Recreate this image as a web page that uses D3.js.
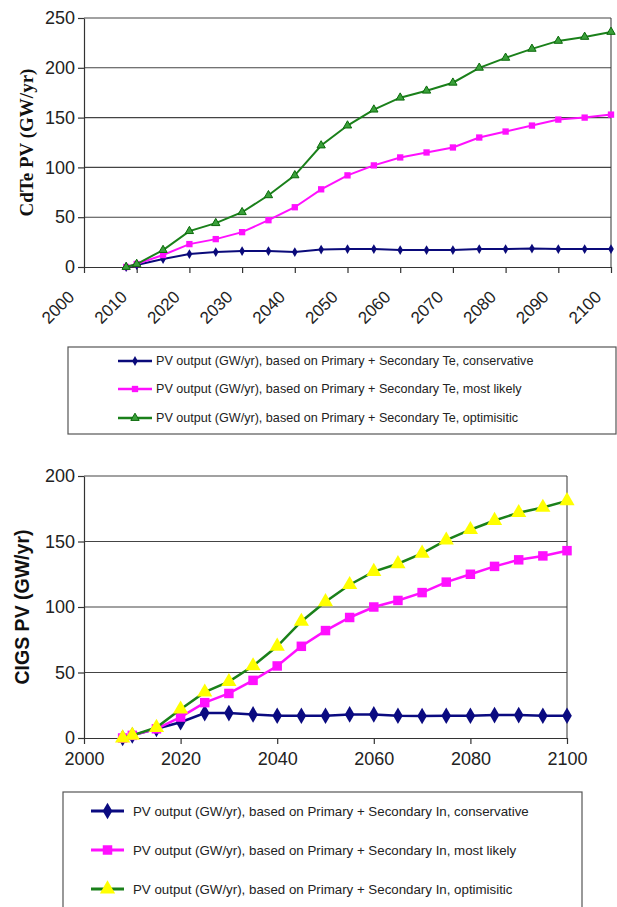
<!DOCTYPE html>
<html>
<head>
<meta charset="utf-8">
<script src="https://cdn.jsdelivr.net/npm/d3@7/dist/d3.min.js"></script>
<style>
body{margin:0;background:#fff;}
svg{display:block;}
.axis path,.axis line{stroke:#333;stroke-width:1.2;}
.axis text{font-family:"Liberation Sans",Arial,sans-serif;fill:#222;}
.grid line{stroke:#444;stroke-width:1.1;}
.legend text{font-family:"Liberation Sans",Arial,sans-serif;fill:#222;}
</style>
</head>
<body>
<div id="chart"></div>
<script>
// years with data points
var years=[2008,2010,2015,2020,2025,2030,2035,2040,2045,2050,2055,2060,2065,2070,2075,2080,2085,2090,2095,2100];

// CdTe (top panel)
var cdteConservative=[0,2,8,13,15,16,16,15,17.5,18,18,17,17,17,18,18,18.5,18,18,18];
var cdteLikely=[0,3,12,23,28,35,47,60,78,92,102,110,115,120,130,136,142,148,150,153];
var cdteOptimistic=[0,3,17,36,44,55,72,92,122,142,158,170,177,185,200,210,219,227,231,236];
var cdteXTicks=[2000,2010,2020,2030,2040,2050,2060,2070,2080,2090,2100];
var cdteYTicks=[0,50,100,150,200,250];
var cdteLegend=['PV output (GW/yr), based on Primary + Secondary Te, conservative',
    'PV output (GW/yr), based on Primary + Secondary Te, most likely',
    'PV output (GW/yr), based on Primary + Secondary Te, optimisitic'];

// CIGS (bottom panel)
var cigsConservative=[0,2,7,12,19,19,18,17,17,17,18,18,17,16.8,17,17,17.5,17.5,17,17];
var cigsLikely=[0,2,7,16,27,34,44,55,70,82,92,100,105,111,119,125,131,136,139,143];
var cigsOptimistic=[0,2,8,22,35,43,55,70,89,104,117,127,133,141,151,159,166,172,176,181];
var cigsXTicks=[2000,2020,2040,2060,2080,2100];
var cigsYTicks=[0,50,100,150,200];
var cigsLegend=['PV output (GW/yr), based on Primary + Secondary In, conservative',
    'PV output (GW/yr), based on Primary + Secondary In, most likely',
    'PV output (GW/yr), based on Primary + Secondary In, optimisitic'];

var svg=d3.select('#chart').append('svg')
    .attr('width',617)
    .attr('height',907);

function toPoints(vals){
    return vals.map(function(v,i){return {year:years[i],value:v};});
}

function drawPanel(cfg){
    var g=svg.append('g');
    var x=d3.scaleLinear().domain([2000,2100]).range([cfg.left,cfg.right]);
    var y=d3.scaleLinear().domain([0,cfg.yMax]).range([cfg.bottom,cfg.top]);

    // horizontal grid
    g.append('g').attr('class','grid')
        .selectAll('line')
        .data(cfg.yTicks.filter(function(d){return d>0;}))
        .enter().append('line')
        .attr('x1',cfg.left).attr('x2',cfg.right)
        .attr('y1',function(d){return y(d);})
        .attr('y2',function(d){return y(d);});
    // right border
    g.append('line')
        .attr('x1',cfg.right).attr('x2',cfg.right)
        .attr('y1',cfg.top).attr('y2',cfg.bottom)
        .attr('stroke','#444').attr('stroke-width',1.1);

    var yAxis=g.append('g').attr('class','axis')
        .attr('transform','translate('+cfg.left+',0)')
        .call(d3.axisLeft(y).tickValues(cfg.yTicks).tickSize(6).tickSizeOuter(0).tickPadding(3));
    yAxis.selectAll('text').style('font-size',cfg.yTickFont+'px');

    var xAxis=g.append('g').attr('class','axis')
        .attr('transform','translate(0,'+cfg.bottom+')')
        .call(d3.axisBottom(x).tickValues(cfg.xTicks).tickFormat(d3.format('d')).tickSize(6).tickSizeOuter(0));
    xAxis.selectAll('text').style('font-size',cfg.xTickFont+'px');
    if(cfg.rotate){
        xAxis.selectAll('text')
            .attr('y',0).attr('dy',0).attr('x',0)
            .attr('text-anchor','end')
            .attr('transform','translate(-9,31) rotate(-45)');
    }else{
        xAxis.selectAll('text').attr('y',14);
    }

    // y title
    g.append('text')
        .attr('transform','translate('+cfg.titleX+','+((cfg.top+cfg.bottom)/2)+') rotate(-90)')
        .attr('text-anchor','middle')
        .attr('dy','0.35em')
        .style('font-family',cfg.titleFont)
        .style('font-weight','bold')
        .style('font-size',cfg.titleSize+'px')
        .style('fill','#111')
        .text(cfg.title);

    var line=d3.line()
        .x(function(d){return x(d.year);})
        .y(function(d){return y(d.value);});

    cfg.series.forEach(function(s){
        var pts=toPoints(s.values);
        g.append('path')
            .datum(pts)
            .attr('fill','none')
            .attr('stroke',s.color)
            .attr('stroke-width',cfg.lineWidth)
            .attr('d',line);
        g.selectAll(null)
            .data(pts)
            .enter().append('path')
            .attr('transform',function(d){return 'translate('+x(d.year)+','+y(d.value)+')';})
            .attr('d',d3.symbol().type(s.symbol).size(s.size))
            .attr('fill',s.fill)
            .attr('stroke',s.stroke||'none')
            .attr('stroke-width',1);
    });

    // legend
    var lg=svg.append('g').attr('class','legend');
    lg.append('rect')
        .attr('x',cfg.legend.x).attr('y',cfg.legend.y)
        .attr('width',cfg.legend.w).attr('height',cfg.legend.h)
        .attr('fill','#fff').attr('stroke','#555').attr('stroke-width',1.2);
    cfg.series.forEach(function(s,i){
        var ly=cfg.legend.rowY[i];
        lg.append('line')
            .attr('x1',cfg.legend.lineX1).attr('x2',cfg.legend.lineX2)
            .attr('y1',ly).attr('y2',ly)
            .attr('stroke',s.color).attr('stroke-width',cfg.lineWidth+0.5);
        lg.append('path')
            .attr('transform','translate('+((cfg.legend.lineX1+cfg.legend.lineX2)/2)+','+ly+')')
            .attr('d',d3.symbol().type(s.symbol).size(s.size))
            .attr('fill',s.fill)
            .attr('stroke',s.stroke||'none');
        lg.append('text')
            .attr('x',cfg.legend.textX).attr('y',ly)
            .attr('dy','0.35em')
            .style('font-size',cfg.legend.font+'px')
            .text(cfg.legendLabels[i]);
    });
}

drawPanel({
    left:84,right:611,top:18,bottom:267,yMax:250,
    xTicks:cdteXTicks,yTicks:cdteYTicks,
    xTickFont:17,yTickFont:18,rotate:true,
    title:'CdTe PV (GW/yr)',titleX:26,titleSize:19,
    titleFont:'"Liberation Serif","Times New Roman",serif',
    lineWidth:2,
    series:[
        {values:cdteConservative,color:'#0a0a7a',fill:'#0a0a7a',symbol:d3.symbolDiamond,size:28},
        {values:cdteLikely,color:'#ff10ff',fill:'#ff10ff',symbol:d3.symbolSquare,size:40},
        {values:cdteOptimistic,color:'#1a801a',fill:'#3aa03a',stroke:'#0a6a0a',symbol:d3.symbolTriangle,size:30}
    ],
    legendLabels:cdteLegend,
    legend:{x:68,y:347,w:548,h:87,rowY:[361,389,418],lineX1:118,lineX2:152,textX:156,font:12.6}
});

drawPanel({
    left:84,right:567,top:476,bottom:738,yMax:200,
    xTicks:cigsXTicks,yTicks:cigsYTicks,
    xTickFont:18,yTickFont:18,rotate:false,
    title:'CIGS PV (GW/yr)',titleX:22,titleSize:19.5,
    titleFont:'"Liberation Sans",Arial,sans-serif',
    lineWidth:2.5,
    series:[
        {values:cigsConservative,color:'#0a0a80',fill:'#0a0a80',symbol:d3.symbolDiamond,size:80},
        {values:cigsLikely,color:'#ff10ff',fill:'#ff10ff',symbol:d3.symbolSquare,size:90},
        {values:cigsOptimistic,color:'#1a801a',fill:'#ffff00',symbol:d3.symbolTriangle,size:100}
    ],
    legendLabels:cigsLegend,
    legend:{x:63,y:792,w:519,h:130,rowY:[811,850,889],lineX1:91,lineX2:124,textX:133,font:13.3}
});
</script>
</body>
</html>
